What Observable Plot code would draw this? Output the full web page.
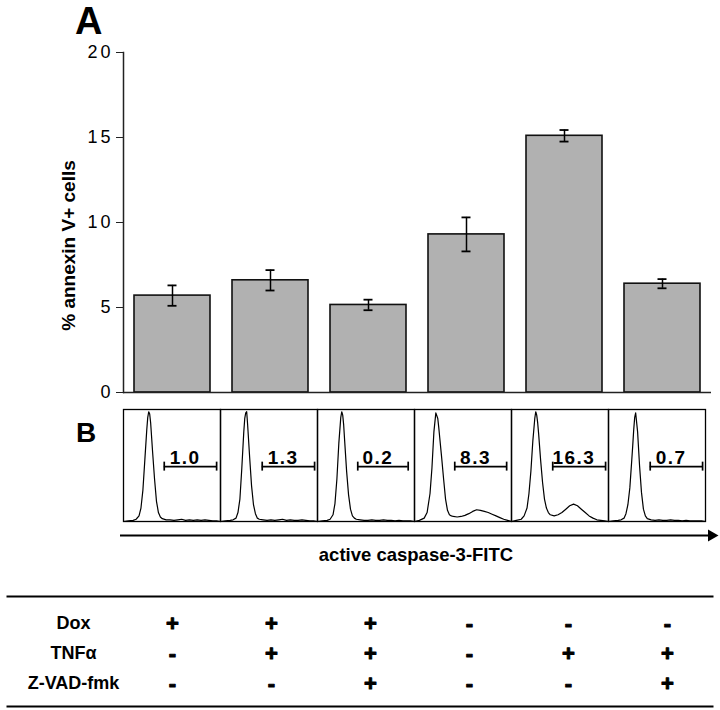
<!DOCTYPE html>
<html>
<head>
<meta charset="utf-8">
<script src="https://cdn.jsdelivr.net/npm/d3@7"></script>
<script src="https://cdn.jsdelivr.net/npm/@observablehq/plot@0.6"></script>
<style>
  body { margin: 0; background: #fff; }
  #fig { position: relative; width: 720px; height: 710px; font-family: "Liberation Sans", Arial, Helvetica, sans-serif; color: #000; }
  #fig .part { position: absolute; left: 0; }
  #fig .letter { position: absolute; font-weight: bold; line-height: 1; color: #000; }
  #fig svg { overflow: visible; }
  #fig svg g[aria-label="y-axis tick label"] text { letter-spacing: 3px; }
</style>
</head>
<body>
<div id="fig"></div>
<script>
// ---- data ----
const conditions = ["Dox", "Dox + TNFα", "Dox + TNFα + Z-VAD-fmk", "none", "TNFα", "TNFα + Z-VAD-fmk"];
const annexinPct = [5.7, 6.6, 5.15, 9.3, 15.1, 6.4];
const annexinErr = [0.6, 0.6, 0.31, 1.0, 0.34, 0.27];
const yTicks = [0, 5, 10, 15, 20];
const yLabel = "% annexin V+ cells";

const caspaseLabels = ["1.0", "1.3", "0.2", "8.3", "16.3", "0.7"];
const gateLow = [42, 43, 41.5, 41.5, 42.5, 43];
const gateHigh = [96, 97, 93.5, 95, 97, 97];
const gateLevel = 49;
const histChannel = [0, 5, 10, 13, 16, 18, 20, 22, 24, 25, 26, 27, 28, 30, 32, 34, 36, 38, 40, 44, 48, 52, 56, 60, 64, 68, 72, 76, 80, 84, 88, 92, 96, 100];
const hist1 = [0, 0.5, 1, 2, 5, 12, 28, 55, 82, 93, 98, 96, 88, 62, 38, 18, 8, 4, 2.5, 1.5, 1.5, 1, 1.5, 2, 1, 1.5, 1, 1.5, 1, 1.5, 1, 0.5, 0.5, 0];
const hist2 = [0, 0.5, 1, 1.5, 3, 8, 20, 48, 80, 92, 97, 98, 86, 58, 32, 15, 7, 3, 2, 1.5, 1, 1.5, 1, 1.5, 2, 1, 1.5, 1, 1, 1.5, 1, 0.5, 0.5, 0];
const hist3 = [0, 0.5, 1, 2, 6, 16, 38, 70, 93, 98, 95, 86, 72, 45, 24, 11, 5, 3, 2, 1.5, 1, 1, 1.5, 1, 1, 1.5, 1, 1, 0.5, 1, 0.5, 0.5, 0.5, 0];
const hist4 = [0, 1, 3, 8, 25, 48, 80, 97, 92, 84, 75, 66, 57, 38, 20, 10, 6, 5, 4.5, 4, 4.5, 5.5, 7, 9, 10.5, 10, 9, 8, 6.5, 5, 3.5, 2, 1, 0];
const hist5 = [0, 1, 2, 5, 12, 25, 45, 72, 92, 98, 95, 88, 78, 55, 35, 20, 12, 8, 6, 5, 6, 8, 11, 14, 15.5, 14, 11, 8, 5, 3, 1.5, 1, 0.5, 0];
const hist6 = [0, 0.5, 1, 1.5, 3, 7, 15, 30, 55, 68, 82, 93, 97, 80, 50, 26, 11, 5, 2.5, 1.5, 1, 1.5, 1, 1, 1.5, 1, 1, 0.5, 1, 0.5, 0.5, 0.5, 0.5, 0];
const histAxisLabel = "active caspase-3-FITC";

const treatmentNames = ["Dox", "TNFα", "Z-VAD-fmk"];
const doxRow = ["+", "+", "+", "-", "-", "-"];
const tnfRow = ["-", "+", "+", "-", "+", "+"];
const zvadRow = ["-", "-", "+", "-", "-", "+"];

// ---- layout helpers ----
const FONT = '"Liberation Sans", Arial, Helvetica, sans-serif';
const fig = document.getElementById("fig");
function place(node, top) {
  const wrap = document.createElement("div");
  wrap.className = "part";
  wrap.style.top = top + "px";
  wrap.appendChild(node);
  fig.appendChild(wrap);
}
function letter(t, left, top, size) {
  const d = document.createElement("div");
  d.className = "letter";
  d.textContent = t;
  d.style.left = left + "px";
  d.style.top = top + "px";
  d.style.fontSize = size + "px";
  fig.appendChild(d);
}
const baseStyle = { fontFamily: FONT, color: "#000", background: "transparent", overflow: "visible" };

// ---- Panel A: bar chart ----
const bars = conditions.map((c, i) => ({
  cond: c, value: annexinPct[i], lo: annexinPct[i] - annexinErr[i], hi: annexinPct[i] + annexinErr[i]
}));
const chartA = Plot.plot({
  width: 720, height: 400,
  marginTop: 52, marginBottom: 8, marginLeft: 123, marginRight: 9,
  style: { ...baseStyle, fontSize: "18px" },
  x: { domain: conditions, paddingInner: 0.22, paddingOuter: 0.11, axis: null },
  y: { domain: [0, 20] },
  marks: [
    Plot.barY(bars, { x: "cond", y: "value", fill: "#b1b1b1", stroke: "#111", strokeWidth: 1.6 }),
    Plot.ruleX(bars, { x: "cond", y1: "lo", y2: "hi", stroke: "#000", strokeWidth: 1.5 }),
    Plot.tickY(bars, { x: "cond", y: "hi", inset: 33.5, stroke: "#000", strokeWidth: 1.8 }),
    Plot.tickY(bars, { x: "cond", y: "lo", inset: 33.5, stroke: "#000", strokeWidth: 1.8 }),
    Plot.ruleY([0], { stroke: "#222", strokeWidth: 1.5 }),
    Plot.frame({ anchor: "left", stroke: "#222", strokeWidth: 1.5 }),
    Plot.axisY({ ticks: yTicks, tickSize: 7, tickPadding: 3, fontSize: 18, label: null, stroke: "#222" }),
    Plot.text([yLabel], { text: d => d, frameAnchor: "left", textAnchor: "middle", rotate: -90, dx: -55, dy: 23,
      fontSize: 19, fontWeight: "bold", fill: "#000" })
  ]
});
place(chartA, 0);

// ---- Panel B: histograms ----
const histAll = [hist1, hist2, hist3, hist4, hist5, hist6];
const histRows = conditions.flatMap((c, i) => histChannel.map((ch, j) => ({ cond: c, ch, count: histAll[i][j] })));
const gates = conditions.map((c, i) => ({ cond: c, lo: gateLow[i], hi: gateHigh[i], label: caspaseLabels[i] }));
const chartB = Plot.plot({
  width: 720, height: 130,
  marginTop: 9, marginBottom: 9, marginLeft: 120, marginRight: 13,
  style: { ...baseStyle, fontSize: "19px" },
  fx: { domain: conditions, padding: 0, axis: null },
  x: { domain: [0, 100], axis: null },
  y: { domain: [0, 100], axis: null },
  marks: [
    Plot.frame({ stroke: "#000", strokeWidth: 1.3 }),
    Plot.line(histRows, { fx: "cond", x: "ch", y: "count", stroke: "#000", strokeWidth: 1.2 }),
    Plot.ruleY(gates, { fx: "cond", x1: "lo", x2: "hi", y: () => gateLevel, stroke: "#000", strokeWidth: 1.7 }),
    Plot.ruleX(gates, { fx: "cond", x: "lo", y1: () => gateLevel - 4, y2: () => gateLevel + 4, stroke: "#000", strokeWidth: 1.7 }),
    Plot.ruleX(gates, { fx: "cond", x: "hi", y1: () => gateLevel - 4, y2: () => gateLevel + 4, stroke: "#000", strokeWidth: 1.7 }),
    Plot.text(gates, { fx: "cond", x: d => d.lo + 0.4 * (d.hi - d.lo), y: () => gateLevel, text: "label",
      dy: -3, lineAnchor: "bottom", fontSize: 19, fontWeight: "bold", fill: "#000" })
  ]
});
place(chartB, 400);
chartB.querySelectorAll('g[aria-label="text"] text').forEach(t => t.style.letterSpacing = "1.5px");

// ---- arrow + axis label ----
const chartArrow = Plot.plot({
  width: 720, height: 50,
  marginTop: 15, marginBottom: 10, marginLeft: 120, marginRight: 9,
  style: { ...baseStyle, fontSize: "18.5px" },
  x: { domain: [0, 1], axis: null },
  y: { domain: [0, 1], axis: null },
  marks: [
    Plot.ruleY([1], { stroke: "#000", strokeWidth: 2 }),
    Plot.dot([1], { x: d => d, y: () => 1, symbol: "triangle", r: 4.5, rotate: 90, fill: "#000", stroke: null }),
    Plot.text([histAxisLabel], { text: d => d, x: () => 0.5, y: () => 0, lineAnchor: "bottom",
      fontSize: 18.5, fontWeight: "bold", fill: "#000" })
  ]
});
place(chartArrow, 520);

// ---- treatment table ----
const headerCol = "treatment";
const rowVals = [doxRow, tnfRow, zvadRow];
const cells = treatmentNames.flatMap((r, i) => conditions.map((c, j) => ({ row: r, col: c, sym: rowVals[i][j] })));
const chartT = Plot.plot({
  width: 720, height: 120,
  marginTop: 6, marginBottom: 4, marginLeft: 7, marginRight: 8,
  style: { ...baseStyle, fontSize: "18px" },
  x: { type: "point", domain: [headerCol, ...conditions], range: [72, 667], padding: 0, axis: null },
  y: { type: "point", domain: treatmentNames, range: [32, 93], padding: 0, axis: null },
  marks: [
    Plot.frame({ anchor: "top", stroke: "#000", strokeWidth: 2 }),
    Plot.frame({ anchor: "bottom", stroke: "#000", strokeWidth: 2 }),
    Plot.text(treatmentNames, { x: () => headerCol, y: d => d, text: d => d, fontSize: 18, fontWeight: "bold", fill: "#000" }),
    Plot.text(cells, { x: "col", y: "row", text: "sym", fontSize: 22, fontWeight: "bold", fill: "#000", stroke: "#000", strokeWidth: 1 })
  ]
});
place(chartT, 590);

// ---- panel letters ----
letter("A", 75, 2, 38);
letter("B", 76, 419, 28);
</script>
</body>
</html>
